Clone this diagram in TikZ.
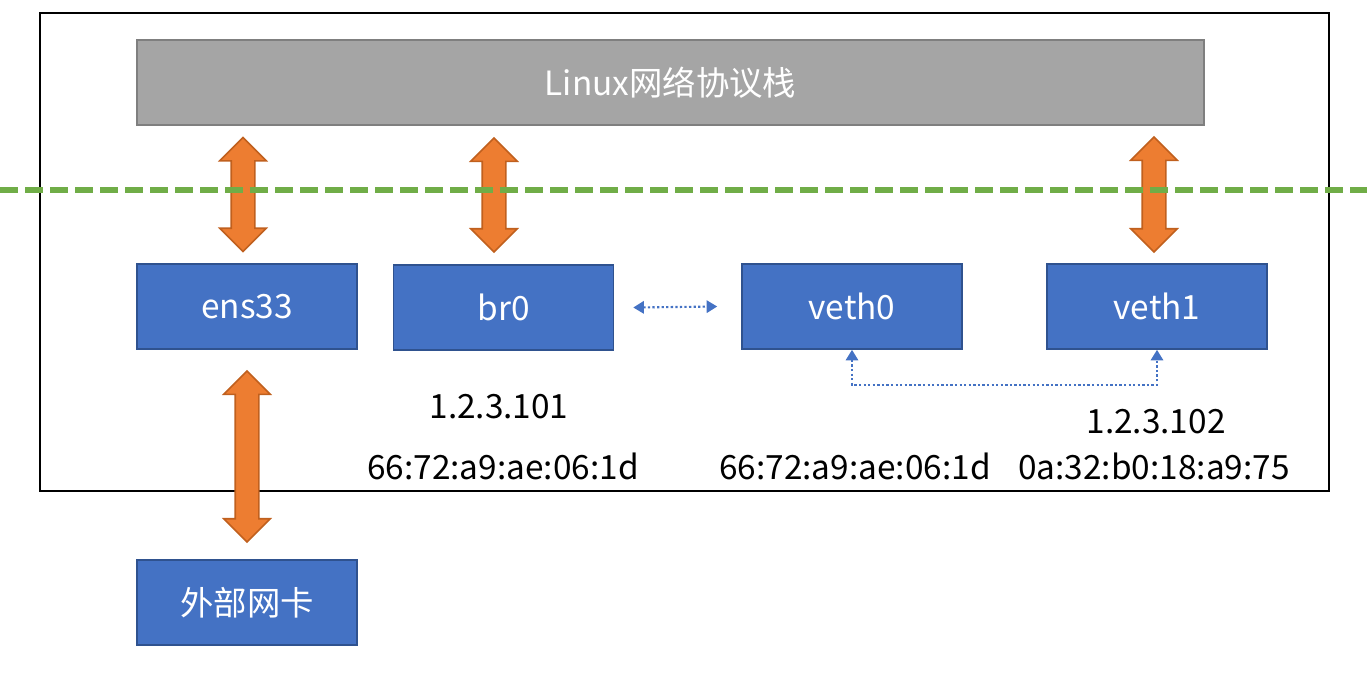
\documentclass[tikz,border=0pt]{standalone}
\usepackage{fontspec}
\setmainfont{Noto Sans CJK SC}
\usepackage{xcolor}
\usepackage{tikz}
\usetikzlibrary{arrows.meta}
\usetikzlibrary{shapes.arrows}
\usetikzlibrary{calc}

\definecolor{portblue}{HTML}{4472C4}
\definecolor{portedge}{HTML}{2F528F}
\definecolor{stackgray}{HTML}{A5A5A5}
\definecolor{stackedge}{HTML}{7F7F7F}
\definecolor{linkorange}{HTML}{ED7D31}
\definecolor{linkedge}{HTML}{C0601E}
\definecolor{layergreen}{HTML}{70AD47}

\begin{document}
\begin{tikzpicture}[
	font=\fontsize{19}{22}\selectfont,
	port/.style={draw=portedge, fill=portblue, line width=0.9pt, text=white,
		minimum width=4.4cm, minimum height=1.7cm},
	updown/.style={double arrow, rotate=90, draw=linkedge, fill=linkorange,
		line width=0.9pt, inner xsep=0pt, inner ysep=0.22cm, minimum width=0.9cm,
		double arrow head extend=0.23cm},
	veth/.style={portblue, line width=1.2pt, dash pattern=on 1.3pt off 1.3pt,
		{Triangle[length=6pt,width=7pt]}-{Triangle[length=6pt,width=7pt]}}]
	\useasboundingbox (0,0) rectangle (27.34,-13.7);
	\draw[line width=1.1pt] (0.8,-0.26) rectangle (26.58,-9.82);

	\node[draw=stackedge, fill=stackgray, line width=0.9pt, text=white,
		minimum width=21.34cm, minimum height=1.7cm] (stack) at (13.41,-1.65) {Linux网络协议栈};

	\node[port] (ens) at (4.94,-6.13) {ens33};
	\node[port] (br) at (10.07,-6.15) {br0};
	\node[port] (veth0) at (17.04,-6.13) {veth0};
	\node[port] (veth1) at (23.14,-6.13) {veth1};
	\node[port] (nic) at (4.94,-12.05) {外部网卡};

	\path ([xshift=-0.08cm]ens.north) -- ([xshift=-0.08cm]ens.north |- stack.south)
		node[midway, updown, minimum height=2.28cm] (ensup) {};
	\path ([xshift=-0.19cm]br.north) -- ([xshift=-0.19cm]br.north |- stack.south)
		node[midway, updown, minimum height=2.28cm] (brup) {};
	\path ([xshift=-0.06cm]veth1.north) -- ([xshift=-0.06cm]veth1.north |- stack.south)
		node[midway, updown, minimum height=2.3cm] (vethup) {};
	\path ([yshift=-0.08cm]ens.south) -- (nic.north)
		node[midway, updown, minimum height=3.42cm] (nicup) {};

	\draw[layergreen, line width=3pt, dash pattern=on 0.36cm off 0.14cm]
		(0,-3.8) -- (27.34,-3.8);

	\draw[veth] ([xshift=0.38cm]br.east) -- ([xshift=-0.48cm]veth0.west);
	\draw[veth] (veth0.south) -- ++(0,-0.7) -| (veth1.south);

	\node (brip) at (9.98,-8.14) {1.2.3.101};
	\node (brmac) at (10.06,-9.32) {66:72:a9:ae:06:1d};
	\node (veth0mac) at (17.1,-9.32) {66:72:a9:ae:06:1d};
	\node (veth1ip) at (23.12,-8.44) {1.2.3.102};
	\node (veth1mac) at (23.08,-9.32) {0a:32:b0:18:a9:75};
\end{tikzpicture}
\end{document}
